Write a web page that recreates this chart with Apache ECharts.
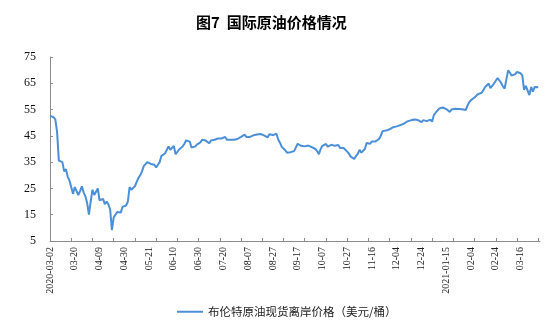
<!DOCTYPE html>
<html>
<head>
<meta charset="utf-8">
<script src="https://cdn.jsdelivr.net/npm/echarts@6/dist/echarts.min.js"></script>
<style>html,body{margin:0;padding:0;background:#fff;}#c{width:554px;height:335px;}</style>
</head>
<body>
<div id="c"></div>
<script>
const titleText = '图7  国际原油价格情况';
const seriesName = '布伦特原油现货离岸价格（美元/桶）';
const yTicks = [5, 15, 25, 35, 45, 55, 65, 75];

const dates = [
'2020-03-02','2020-03-03','2020-03-04','2020-03-05','2020-03-06','2020-03-09','2020-03-10','2020-03-11','2020-03-12','2020-03-13','2020-03-16','2020-03-17','2020-03-18','2020-03-19','2020-03-20','2020-03-23','2020-03-24','2020-03-25','2020-03-26','2020-03-27','2020-03-30','2020-03-31',
'2020-04-01','2020-04-02','2020-04-03','2020-04-06','2020-04-07','2020-04-08','2020-04-09','2020-04-13','2020-04-14','2020-04-15','2020-04-16','2020-04-17','2020-04-20','2020-04-21','2020-04-22','2020-04-23','2020-04-24','2020-04-27','2020-04-28','2020-04-29','2020-04-30',
'2020-05-01','2020-05-04','2020-05-05','2020-05-06','2020-05-07','2020-05-11','2020-05-12','2020-05-13','2020-05-14','2020-05-15','2020-05-18','2020-05-19','2020-05-20','2020-05-21','2020-05-22','2020-05-25','2020-05-26','2020-05-27','2020-05-28','2020-05-29',
'2020-06-01','2020-06-02','2020-06-03','2020-06-04','2020-06-05','2020-06-08','2020-06-09','2020-06-10','2020-06-11','2020-06-12','2020-06-15','2020-06-16','2020-06-17','2020-06-18','2020-06-19','2020-06-22','2020-06-23','2020-06-24','2020-06-25','2020-06-26','2020-06-29','2020-06-30',
'2020-07-01','2020-07-02','2020-07-03','2020-07-06','2020-07-07','2020-07-08','2020-07-09','2020-07-10','2020-07-13','2020-07-14','2020-07-15','2020-07-16','2020-07-17','2020-07-20','2020-07-21','2020-07-22','2020-07-23','2020-07-24','2020-07-27','2020-07-28','2020-07-29','2020-07-30','2020-07-31',
'2020-08-03','2020-08-04','2020-08-05','2020-08-06','2020-08-07','2020-08-10','2020-08-11','2020-08-12','2020-08-13','2020-08-14','2020-08-17','2020-08-18','2020-08-19','2020-08-20','2020-08-21','2020-08-24','2020-08-25','2020-08-26','2020-08-27','2020-08-28',
'2020-09-01','2020-09-02','2020-09-03','2020-09-04','2020-09-07','2020-09-08','2020-09-09','2020-09-10','2020-09-11','2020-09-14','2020-09-15','2020-09-16','2020-09-17','2020-09-18','2020-09-21','2020-09-22','2020-09-23','2020-09-24','2020-09-25','2020-09-28','2020-09-29','2020-09-30',
'2020-10-01','2020-10-02','2020-10-05','2020-10-06','2020-10-07','2020-10-08','2020-10-09','2020-10-12','2020-10-13','2020-10-14','2020-10-15','2020-10-16','2020-10-19','2020-10-20','2020-10-21','2020-10-22','2020-10-23','2020-10-26','2020-10-27','2020-10-28','2020-10-29','2020-10-30',
'2020-11-02','2020-11-03','2020-11-04','2020-11-05','2020-11-06','2020-11-09','2020-11-10','2020-11-11','2020-11-12','2020-11-13','2020-11-16','2020-11-17','2020-11-18','2020-11-19','2020-11-20','2020-11-23','2020-11-24','2020-11-25','2020-11-26','2020-11-27','2020-11-30',
'2020-12-01','2020-12-02','2020-12-03','2020-12-04','2020-12-07','2020-12-08','2020-12-09','2020-12-10','2020-12-11','2020-12-14','2020-12-15','2020-12-16','2020-12-17','2020-12-18','2020-12-21','2020-12-22','2020-12-23','2020-12-24','2020-12-28','2020-12-29','2020-12-30','2020-12-31',
'2021-01-04','2021-01-05','2021-01-06','2021-01-07','2021-01-08','2021-01-11','2021-01-12','2021-01-13','2021-01-14','2021-01-15','2021-01-18','2021-01-19','2021-01-20','2021-01-21','2021-01-22','2021-01-25','2021-01-26','2021-01-27','2021-01-28','2021-01-29',
'2021-02-01','2021-02-02','2021-02-03','2021-02-04','2021-02-05','2021-02-08','2021-02-09','2021-02-10','2021-02-11','2021-02-12','2021-02-15','2021-02-16','2021-02-17','2021-02-18','2021-02-19','2021-02-22','2021-02-23','2021-02-24','2021-02-25','2021-02-26',
'2021-03-01','2021-03-02','2021-03-03','2021-03-04','2021-03-05','2021-03-08','2021-03-09','2021-03-10','2021-03-11','2021-03-12','2021-03-15','2021-03-16','2021-03-17','2021-03-18','2021-03-19','2021-03-22','2021-03-23','2021-03-24','2021-03-25','2021-03-26','2021-03-29','2021-03-30','2021-03-31'
];

const brentPrice = [
52.6,52.4,52.1,51.3,46.5,35.6,35.8,35.0,31.5,32.3,29.5,28.0,27.8,23.0,25.5,26.0,22.5,24.0,25.8,23.5,22.0,19.5,
15.0,20.0,24.5,22.5,23.0,25.0,20.5,21.0,21.0,19.0,20.0,19.0,17.0,9.1,14.0,15.0,16.0,15.5,15.8,18.0,18.2,
18.5,20.0,25.5,24.5,24.3,25.8,27.5,29.0,30.0,31.5,33.5,34.0,35.0,34.5,34.3,34.0,34.0,33.0,34.0,
35.0,37.4,38.0,38.3,38.5,41.0,39.7,40.0,41.2,38.0,38.7,39.8,40.3,41.0,42.0,43.3,43.5,42.8,40.6,41.1,40.9,41.7,
42.0,42.5,43.5,42.9,43.2,43.8,42.2,43.2,42.9,43.5,43.2,44.0,43.5,44.0,43.5,44.6,43.5,43.2,43.5,43.2,43.5,43.2,43.8,
43.5,44.6,45.2,45.5,44.6,44.2,44.6,44.3,45.2,45.5,45.5,45.2,45.7,45.2,45.2,44.6,44.4,45.6,46.2,45.3,
45.6,45.8,43.6,42.4,40.8,40.5,39.5,38.6,39.0,38.8,38.6,39.2,40.6,42.0,42.2,41.2,40.8,41.0,41.2,41.3,41.6,40.7,
40.4,40.0,39.2,38.0,40.0,41.2,40.7,41.9,40.9,41.2,41.6,41.5,41.2,41.4,41.5,40.4,40.9,40.4,39.7,39.0,38.2,37.1,
36.5,36.2,37.3,38.2,39.7,38.6,37.9,40.0,42.3,42.3,42.0,42.9,42.6,42.9,43.1,43.8,45.0,46.8,47.2,47.0,47.2,
47.5,47.9,48.3,48.5,48.6,49.1,49.1,49.3,49.6,50.3,50.5,50.5,50.9,51.0,51.2,51.9,51.0,50.4,50.2,51.0,50.8,50.6,
51.0,51.2,50.4,52.9,53.8,54.5,55.4,55.1,55.8,55.6,55.2,54.5,54.1,55.0,55.4,55.3,55.0,55.2,55.0,55.1,
55.0,54.8,56.5,57.8,58.6,59.0,59.6,60.2,60.9,61.2,61.4,62.4,63.6,64.3,64.9,63.2,63.9,64.9,65.5,67.0,
66.5,65.2,63.8,63.0,66.5,69.9,69.0,67.9,67.2,68.5,69.3,69.0,68.8,68.0,62.5,64.0,64.3,60.5,63.6,61.8,63.6,64.2,63.5
];

const LABEL_STEP = 14;
const TICK_STEP = 12;
let firstNewYearLabel = -1;
for (let i = 0; i < dates.length; i += LABEL_STEP) {
  if (dates[i].slice(0, 4) !== dates[0].slice(0, 4)) { firstNewYearLabel = i; break; }
}

const chart = echarts.init(document.getElementById('c'), null, {renderer: 'canvas'});
chart.setOption({
  animation: false,
  backgroundColor: '#ffffff',
  title: {
    text: titleText,
    left: 196, top: 15, padding: 0,
    textStyle: {fontFamily: '"Noto Sans CJK SC", sans-serif', fontSize: 15, fontWeight: 'bold', color: '#000'}
  },
  legend: {
    data: [seriesName],
    left: 177, top: 306, padding: 0,
    icon: 'rect', itemWidth: 26, itemHeight: 2,
    textStyle: {fontFamily: '"Noto Sans CJK SC", sans-serif', fontSize: 11.5, color: '#222'}
  },
  grid: {left: 50, right: 14, top: 57, bottom: 94, containLabel: false},
  xAxis: {
    type: 'category',
    data: dates,
    boundaryGap: false,
    axisLine: {lineStyle: {color: '#8c8c8c', width: 1}},
    axisTick: {inside: true, length: 3, interval: TICK_STEP - 1, lineStyle: {color: '#8c8c8c'}},
    axisLabel: {
      interval: LABEL_STEP - 1,
      rotate: 90,
      margin: 6,
      fontFamily: '"Liberation Serif", "Times New Roman", serif',
      fontSize: 10,
      color: '#222',
      formatter: function (v, i) {
        if (i === 0 || i === firstNewYearLabel) return v;
        return v.slice(5);
      }
    },
    splitLine: {show: false}
  },
  yAxis: {
    type: 'value',
    min: yTicks[0], max: yTicks[yTicks.length - 1], interval: 10,
    axisLine: {show: true, lineStyle: {color: '#8c8c8c', width: 1}},
    axisTick: {show: true, inside: true, length: 3, lineStyle: {color: '#8c8c8c'}},
    axisLabel: {margin: 14, fontFamily: '"Liberation Serif", "Times New Roman", serif', fontSize: 12, color: '#111'},
    splitLine: {show: false}
  },
  series: [{
    name: seriesName,
    type: 'line',
    data: brentPrice,
    symbol: 'none',
    smooth: false,
    lineStyle: {color: '#4a8fd8', width: 2},
    itemStyle: {color: '#4a8fd8'}
  }]
});
</script>
</body>
</html>
